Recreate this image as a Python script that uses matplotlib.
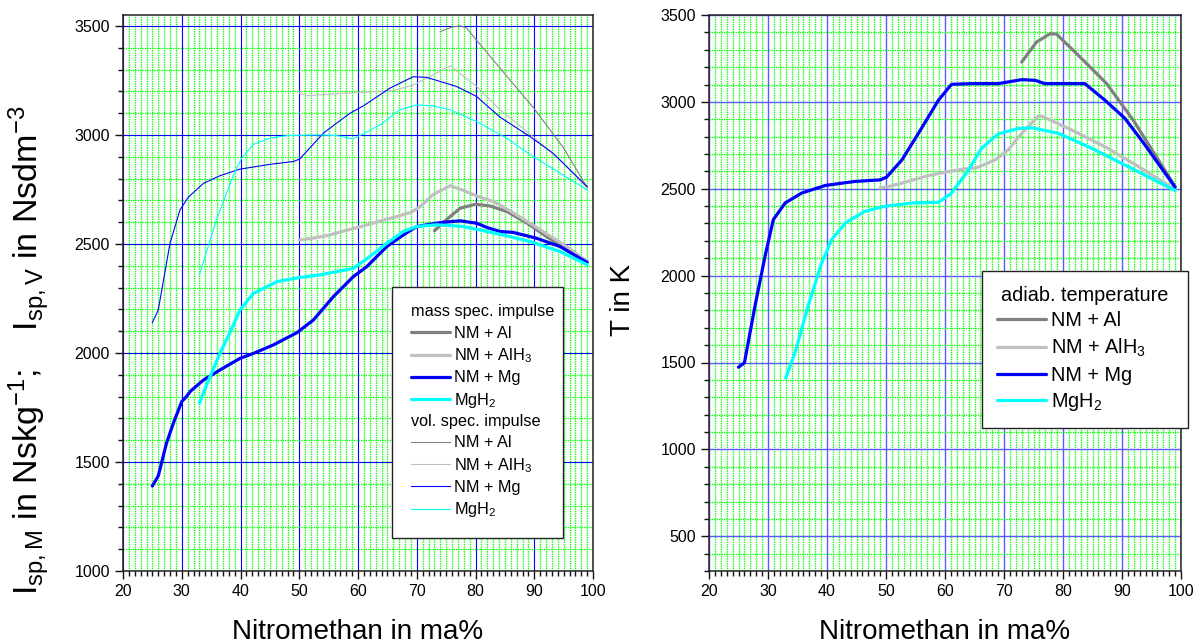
import matplotlib
matplotlib.use("Agg")
import matplotlib.pyplot as plt
import matplotlib.text as mtext
from matplotlib.ticker import MultipleLocator

plt.rcParams['font.family'] = ['Liberation Sans', 'DejaVu Sans']
plt.rcParams['mathtext.fontset'] = 'custom'
plt.rcParams['mathtext.rm'] = 'Liberation Sans'
plt.rcParams['mathtext.it'] = 'Liberation Sans:italic'
plt.rcParams['mathtext.bf'] = 'Liberation Sans:bold'

# ---- mass specific impulse, N s / kg ----
isp_m_al_x = [73, 75, 77.4, 80, 82.5, 85.4, 88.8, 92.2, 95.6, 99]
isp_m_al_y = [2560, 2610, 2664, 2682, 2674, 2648, 2595, 2532, 2474, 2420]

isp_m_alh3_x = [50, 52, 55, 58, 61.5, 64, 66.5, 69, 70.6, 72.8, 75.7, 78, 80.2, 83, 86, 89, 92, 95.5, 99]
isp_m_alh3_y = [2518, 2525, 2540, 2562, 2587, 2607, 2625, 2645, 2671, 2727, 2767, 2745, 2720, 2695, 2650, 2600, 2548, 2488, 2420]

isp_m_mg_x = [25, 26, 27.4, 28.6, 30, 30.8, 31.5, 33.7, 36.5, 39.9, 42.2, 45.6, 49.6, 52.4, 55.8, 59.2,
              61.5, 64.9, 67.7, 70, 74, 77.4, 80.2, 82, 84.2, 86.4, 90.4, 94.4, 99]
isp_m_mg_y = [1390, 1436, 1586, 1680, 1777, 1800, 1825, 1876, 1922, 1975, 1998, 2037, 2093, 2151, 2258, 2350,
              2396, 2488, 2541, 2580, 2598, 2606, 2595, 2575, 2557, 2553, 2526, 2488, 2415]

isp_m_mgh2_x = [33, 34.8, 36.5, 38.8, 39.9, 42.2, 46.2, 49.8, 53.5, 59.2, 62, 64.9, 67.7, 70, 73.4,
                77.9, 80.8, 84.7, 89.3, 94.4, 99]
isp_m_mgh2_y = [1770, 1891, 1998, 2128, 2197, 2273, 2327, 2345, 2358, 2388, 2442, 2503, 2557, 2580, 2588,
                2580, 2564, 2541, 2511, 2465, 2405]

# ---- volume specific impulse, N s / dm^3 ----
isp_v_al_x = [74, 76, 77.5, 78.5, 80, 85, 90, 95, 99]
isp_v_al_y = [3474, 3495, 3500, 3490, 3440, 3280, 3120, 2940, 2760]

isp_v_alh3_x = [50, 51.5, 55, 61.5, 66, 69.4, 72.8, 75.7, 80.2, 84.2, 89.8, 95, 99]
isp_v_alh3_y = [3190, 3180, 3187, 3197, 3203, 3229, 3275, 3317, 3222, 3115, 2992, 2870, 2755]

isp_v_mg_x = [25, 26, 28, 29.7, 31.1, 33.7, 36.5, 39.9, 45, 49, 50.1, 54.1, 58.6, 60.9, 65.4, 69.4,
              71.7, 76.8, 80.2, 84.2, 89.3, 93.2, 99]
isp_v_mg_y = [2140, 2197, 2503, 2656, 2714, 2778, 2813, 2843, 2865, 2878, 2890, 3008, 3099, 3133, 3214, 3267,
              3264, 3222, 3176, 3081, 2992, 2916, 2763]

isp_v_mgh2_x = [33, 35.9, 38.8, 40.2, 42.2, 45, 47.9, 53.5, 56.4, 59.1, 60.3, 63.7, 67.1, 70, 72.8,
                75.7, 80.2, 85.3, 89.8, 99]
isp_v_mgh2_y = [2358, 2610, 2817, 2893, 2957, 2985, 2997, 3000, 2997, 2982, 2997, 3045, 3115, 3138, 3133,
                3115, 3061, 2985, 2901, 2748]

# ---- adiabatic combustion temperature, K ----
t_al_x = [73, 75.5, 77.8, 78.9, 82.9, 87.4, 91.9, 99]
t_al_y = [3229, 3344, 3392, 3390, 3258, 3105, 2895, 2513]

t_alh3_x = [49, 51, 57.7, 62.3, 65.6, 68.5, 70.7, 73, 75.8, 76.4, 81.5, 87.1, 92.8, 99]
t_alh3_y = [2504, 2517, 2580, 2609, 2624, 2666, 2723, 2819, 2918, 2918, 2838, 2742, 2628, 2494]

t_mg_x = [25, 26, 27.8, 29.5, 30.9, 32.9, 35.7, 39.7, 44.7, 49, 50.1, 52.7, 55.5, 58.9, 61.1, 64.5,
          69, 73, 75.3, 76.9, 83.7, 87.1, 90.5, 93.9, 99]
t_mg_y = [1473, 1498, 1826, 2112, 2322, 2418, 2475, 2519, 2542, 2551, 2567, 2666, 2819, 3010, 3101, 3105,
          3105, 3128, 3124, 3105, 3105, 3010, 2905, 2752, 2509]

t_mgh2_x = [33, 34.6, 36.8, 39.1, 40.8, 43.1, 46.4, 49.8, 54.4, 58.9, 61.1, 64, 66.2, 69, 72.4, 74.7,
            79.2, 84.3, 89.9, 99]
t_mgh2_y = [1410, 1559, 1826, 2074, 2208, 2303, 2370, 2399, 2418, 2422, 2475, 2609, 2733, 2815, 2847, 2851,
            2819, 2742, 2647, 2490]

labels = ['NM + Al', 'NM + AlH$_3$', 'NM + Mg', 'MgH$_2$']
colors = ['#808080', '#c0c0c0', '#0000ff', '#00ffff']

THICK = 2.3
THIN = 0.8


class SectionTitle:
    def __init__(self, text):
        self.text = text


class SectionTitleHandler:
    """Draws a heading line of text in the handle slot of a legend row."""
    def legend_artist(self, legend, orig_handle, fontsize, handlebox):
        y = (handlebox.height - handlebox.ydescent) / 2
        t = mtext.Text(0, y, orig_handle.text, fontsize=fontsize, ha='left', va='center',
                       family=['Liberation Sans', 'DejaVu Sans'])
        handlebox.add_artist(t)
        return t


def style_axes(ax, ymin, ymax, major_color, major_lw):
    ax.set_xlim(20, 100)
    ax.set_ylim(ymin, ymax)
    ax.xaxis.set_major_locator(MultipleLocator(10))
    ax.xaxis.set_minor_locator(MultipleLocator(1))
    ax.yaxis.set_major_locator(MultipleLocator(500))
    ax.yaxis.set_minor_locator(MultipleLocator(100))
    # fine dotted mesh in bright green
    ax.grid(which='minor', color='#00ff00', linestyle=(0, (1, 0.8)), linewidth=0.95)
    ax.grid(which='major', color=major_color, linewidth=major_lw)
    ax.set_axisbelow(True)
    ax.tick_params(which='both', direction='out', top=False, right=False,
                   labelsize=11.5, width=1.0, color='#111111')
    ax.tick_params(which='major', length=6)
    ax.tick_params(which='minor', length=3.5)
    for s in ax.spines.values():
        s.set_linewidth(1.1)
        s.set_color('#222222')


fig = plt.figure(figsize=(11.95, 6.44), dpi=100)
ax1 = fig.add_axes([123 / 1195, 73 / 644, 470 / 1195, 556 / 644])
ax2 = fig.add_axes([709 / 1195, 73 / 644, 472 / 1195, 556 / 644])

style_axes(ax1, 1000, 3550, '#0000ff', 0.8)
style_axes(ax2, 300, 3500, '#5a5aff', 1.0)

# left panel: specific impulse
mass_series = [(isp_m_al_x, isp_m_al_y), (isp_m_alh3_x, isp_m_alh3_y),
               (isp_m_mg_x, isp_m_mg_y), (isp_m_mgh2_x, isp_m_mgh2_y)]
vol_series = [(isp_v_al_x, isp_v_al_y), (isp_v_alh3_x, isp_v_alh3_y),
              (isp_v_mg_x, isp_v_mg_y), (isp_v_mgh2_x, isp_v_mgh2_y)]

mass_handles = []
for (x, y), c in zip(mass_series, colors):
    h, = ax1.plot(x, y, color=c, lw=THICK, solid_joinstyle='round', solid_capstyle='round', zorder=3)
    mass_handles.append(h)
vol_handles = []
for (x, y), c in zip(vol_series, colors):
    h, = ax1.plot(x, y, color=c, lw=THIN, zorder=3)
    vol_handles.append(h)

handles = [SectionTitle('mass spec. impulse')] + mass_handles + \
          [SectionTitle('vol. spec. impulse')] + vol_handles
leg_labels = [''] + labels + [''] + labels
leg1 = ax1.legend(handles, leg_labels, handler_map={SectionTitle: SectionTitleHandler()},
                  loc='upper left', bbox_to_anchor=(0.572, 0.0, 0.364, 0.511), mode='expand',
                  borderaxespad=0, fontsize=11.7, frameon=True, fancybox=False, framealpha=1,
                  edgecolor='#222222', handlelength=2.4, handletextpad=0.3,
                  labelspacing=0.33, borderpad=1.15)
leg1.get_frame().set_linewidth(1.0)

ax1.set_xlabel('Nitromethan in ma%', fontsize=20, labelpad=14)
ax1.set_ylabel(r'I$_{\rm sp,M}$ in Nskg$^{-1}$;    I$_{\rm sp,V}$ in Nsdm$^{-3}$', fontsize=24.5)
ax1.yaxis.set_label_coords(-0.15, 0.397)

# right panel: adiabatic temperature
t_series = [(t_al_x, t_al_y), (t_alh3_x, t_alh3_y), (t_mg_x, t_mg_y), (t_mgh2_x, t_mgh2_y)]
t_handles = []
for (x, y), c in zip(t_series, colors):
    h, = ax2.plot(x, y, color=c, lw=THICK, solid_joinstyle='round', solid_capstyle='round', zorder=3)
    t_handles.append(h)

leg2 = ax2.legend(t_handles, labels, title='adiab. temperature', title_fontsize=14.3,
                  loc='upper left', bbox_to_anchor=(0.578, 0.0, 0.436, 0.54), mode='expand',
                  borderaxespad=0, fontsize=14.3, frameon=True, fancybox=False, framealpha=1,
                  edgecolor='#222222', handlelength=2.5, handletextpad=0.25,
                  labelspacing=0.33, borderpad=0.75)
leg2.get_frame().set_linewidth(1.0)

ax2.set_xlabel('Nitromethan in ma%', fontsize=20, labelpad=14)
ax2.set_ylabel('T in K', fontsize=20)
ax2.yaxis.set_label_coords(-0.155, 0.487)

fig.savefig('out.png', dpi=100)
